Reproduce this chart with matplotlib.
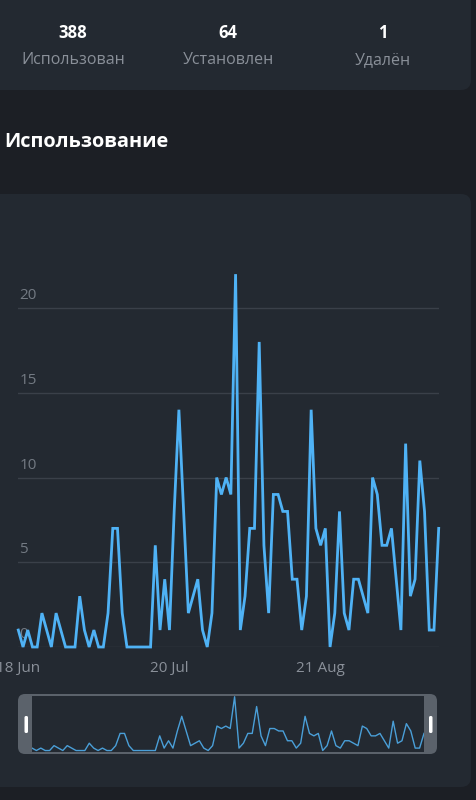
import numpy as np
import pandas as pd
import matplotlib.pyplot as plt
import matplotlib.dates as mdates
from matplotlib.patches import FancyBboxPatch

plt.rcParams['font.family'] = ['Open Sans', 'DejaVu Sans']

# ---------------------------------------------------------------
#  Data
# ---------------------------------------------------------------
stat_values = ['388', '64', '1']
stat_labels = ['Использован', 'Установлен', 'Удалён']
chart_title = 'Использование'

start_day = '2024-06-18'
usage = [1, 0, 1, 0, 0, 2, 1, 0, 2, 1,
         0, 0, 0, 3, 1, 0, 1, 0, 0, 2,
         7, 7, 2, 0, 0, 0, 0, 0, 0, 6,
         1, 4, 1, 8, 14, 8, 2, 3, 4, 1,
         0, 2, 10, 9, 10, 9, 22, 1, 3, 7,
         7, 18, 6, 2, 9, 9, 8, 8, 4, 4,
         1, 3, 14, 7, 6, 7, 0, 2, 8, 2,
         1, 4, 4, 3, 2, 10, 9, 6, 6, 7,
         4, 1, 12, 3, 4, 11, 8, 1, 1, 7]
days = pd.date_range(start_day, periods=len(usage), freq='D')

x_ticks = pd.to_datetime(['2024-06-18', '2024-07-20', '2024-08-21'])
y_ticks = [0, 5, 10, 15, 20]

# ---------------------------------------------------------------
#  Layout (pixels)
# ---------------------------------------------------------------
W, H = 477, 800
BG = '#1c1f25'
CARD = '#232931'
LINE = '#4fb2f5'
GRID = '#3a4049'

fig = plt.figure(figsize=(W / 100, H / 100), dpi=100, facecolor=BG)


def rect(x0, y0, x1, y1):
    # pixel box (top-left origin) -> figure fraction
    return [x0 / W, 1 - y1 / H, (x1 - x0) / W, (y1 - y0) / H]


bg = fig.add_axes([0, 0, 1, 1])
bg.set_xlim(0, W)
bg.set_ylim(H, 0)
bg.axis('off')

# cards
bg.add_patch(FancyBboxPatch((-30, -30), 501, 120, boxstyle='round,pad=0,rounding_size=10',
                            fc=CARD, ec='none'))
bg.add_patch(FancyBboxPatch((-30, 194), 501, 593, boxstyle='round,pad=0,rounding_size=10',
                            fc=CARD, ec='none'))

# stats
for cx, v, lab in zip([73, 228, 383], stat_values, stat_labels):
    bg.text(cx, 38, v, ha='center', va='baseline', color='white', fontsize=12,
            fontweight='bold')
    bg.text(cx, 64, lab, ha='center', va='baseline', color='#8a9099', fontsize=11.5)

bg.text(4, 147, chart_title, ha='left', va='baseline', color='white', fontsize=14.3,
        fontweight='bold')

# ---------------------------------------------------------------
#  Main chart
# ---------------------------------------------------------------
ax = fig.add_axes(rect(18.3, 257.2, 438.7, 647))
ax.set_facecolor('none')
ax.set_xlim(days[0], days[-1])
ax.set_ylim(0, 23)
for s in ax.spines.values():
    s.set_visible(False)
ax.set_yticks([])
for v in y_ticks:
    ax.axhline(v, color=GRID, lw=1, zorder=1)
    ax.annotate(str(v), xy=(0, v), xycoords=('axes fraction', 'data'),
                xytext=(1, 5), textcoords='offset pixels', ha='left', va='bottom',
                color='#737a83', fontsize=11, zorder=2)
ax.plot(days, usage, color=LINE, lw=2.0, zorder=3, clip_on=False,
        solid_joinstyle='miter')
ax.set_xticks(x_ticks)
ax.xaxis.set_major_formatter(mdates.DateFormatter('%d %b'))
ax.tick_params(axis='x', length=0, pad=10, colors='#8a9099', labelsize=11)

# ---------------------------------------------------------------
#  Zoom slider
# ---------------------------------------------------------------
bg.add_patch(FancyBboxPatch((18, 694), 419, 60, boxstyle='round,pad=0,rounding_size=7',
                            fc='#5b626b', ec='none'))
for hx in [24.5, 429]:
    bg.add_patch(FancyBboxPatch((hx, 716), 3.5, 17, boxstyle='round,pad=0,rounding_size=1.5',
                                fc='white', ec='none'))

mini = fig.add_axes(rect(32, 696, 424, 752))
mini.set_facecolor(CARD)
mini.plot(days, usage, color='#4a9fd8', lw=1.0)
mini.set_xlim(days[0], days[-1])
mini.set_ylim(-0.6, 22.3)
mini.set_xticks([])
mini.set_yticks([])
for s in mini.spines.values():
    s.set_visible(False)

fig.savefig('out.png', dpi=100, facecolor=BG)
